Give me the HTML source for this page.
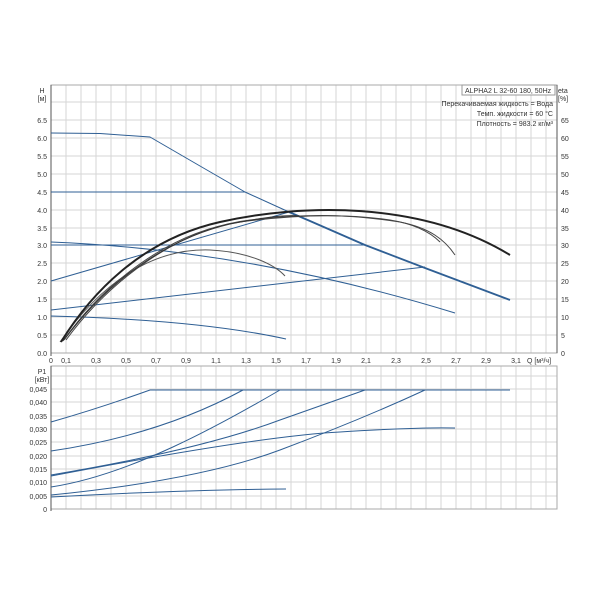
<!DOCTYPE html>
<html><head><meta charset="utf-8"><style>
html,body{margin:0;padding:0;background:#fff;width:600px;height:600px;overflow:hidden}
svg text{font-family:"Liberation Sans","DejaVu Sans",sans-serif;font-size:7px;fill:#333}
</style></head><body>
<svg width="600" height="600" viewBox="0 0 600 600" xmlns="http://www.w3.org/2000/svg">
<g stroke="#d6d6d6" stroke-width="1" fill="none">
<path d="M66 85V353M81 85V353M96 85V353M111 85V353M126 85V353M141 85V353M156 85V353M171 85V353M186 85V353M201 85V353M216 85V353M231 85V353M246 85V353M261 85V353M276 85V353M291 85V353M306 85V353M321 85V353M336 85V353M351 85V353M366 85V353M381 85V353M396 85V353M411 85V353M426 85V353M441 85V353M456 85V353M471 85V353M486 85V353M501 85V353M516 85V353M531 85V353M546 85V353"/>
<path d="M51 335H557M51 317H557M51 299H557M51 281H557M51 263H557M51 245H557M51 228H557M51 210H557M51 192H557M51 174H557M51 156H557M51 138H557M51 120H557M51 102H557"/>
<path d="M66 366V509M81 366V509M96 366V509M111 366V509M126 366V509M141 366V509M156 366V509M171 366V509M186 366V509M201 366V509M216 366V509M231 366V509M246 366V509M261 366V509M276 366V509M291 366V509M306 366V509M321 366V509M336 366V509M351 366V509M366 366V509M381 366V509M396 366V509M411 366V509M426 366V509M441 366V509M456 366V509M471 366V509M486 366V509M501 366V509M516 366V509M531 366V509M546 366V509"/>
<path d="M51 496H557M51 482H557M51 469H557M51 456H557M51 442H557M51 429H557M51 416H557M51 402H557M51 389H557M51 376H557"/>
</g>
<g stroke="#aaa" fill="none">
<rect x="51" y="85" width="506" height="268"/>
<rect x="51" y="366" width="506" height="143"/>
</g>
<g stroke="#555" fill="none">
<path d="M51 85V356M51 366V511"/>
<path d="M557 85V353"/>
</g>
<rect x="462" y="85" width="93" height="10" fill="#fff" stroke="#999"/>
<text x="465" y="93">ALPHA2 L 32-60 180, 50Hz</text>
<text x="558" y="93">eta</text><text x="558" y="101">[%]</text>
<text x="553" y="106" text-anchor="end">Перекачиваемая жидкость = Вода</text>
<text x="553" y="116" text-anchor="end">Темп. жидкости = 60 °C</text>
<text x="553" y="126" text-anchor="end">Плотность = 983.2 кг/м³</text>
<text x="42" y="93" text-anchor="middle">H</text><text x="42" y="101" text-anchor="middle">[м]</text>
<g text-anchor="end">
<text x="47" y="356">0.0</text><text x="47" y="338">0.5</text><text x="47" y="320">1.0</text><text x="47" y="302">1.5</text><text x="47" y="284">2.0</text><text x="47" y="266">2.5</text><text x="47" y="248">3.0</text><text x="47" y="231">3.5</text><text x="47" y="213">4.0</text><text x="47" y="195">4.5</text><text x="47" y="177">5.0</text><text x="47" y="159">5.5</text><text x="47" y="141">6.0</text><text x="47" y="123">6.5</text>
</g>
<g>
<text x="561" y="356">0</text><text x="561" y="338">5</text><text x="561" y="320">10</text><text x="561" y="302">15</text><text x="561" y="284">20</text><text x="561" y="266">25</text><text x="561" y="248">30</text><text x="561" y="231">35</text><text x="561" y="213">40</text><text x="561" y="195">45</text><text x="561" y="177">50</text><text x="561" y="159">55</text><text x="561" y="141">60</text><text x="561" y="123">65</text>
</g>
<g text-anchor="middle">
<text x="51" y="363">0</text><text x="66" y="363">0,1</text><text x="96" y="363">0,3</text><text x="126" y="363">0,5</text><text x="156" y="363">0,7</text><text x="186" y="363">0,9</text><text x="216" y="363">1,1</text><text x="246" y="363">1,3</text><text x="276" y="363">1,5</text><text x="306" y="363">1,7</text><text x="336" y="363">1,9</text><text x="366" y="363">2,1</text><text x="396" y="363">2,3</text><text x="426" y="363">2,5</text><text x="456" y="363">2,7</text><text x="486" y="363">2,9</text><text x="516" y="363">3,1</text>
</g>
<text x="527" y="363">Q [м³/ч]</text>
<text x="42" y="374" text-anchor="middle">P1</text><text x="42" y="382" text-anchor="middle">[кВт]</text>
<g text-anchor="end">
<text x="47" y="512">0</text><text x="47" y="499">0,005</text><text x="47" y="485">0,010</text><text x="47" y="472">0,015</text><text x="47" y="459">0,020</text><text x="47" y="445">0,025</text><text x="47" y="432">0,030</text><text x="47" y="419">0,035</text><text x="47" y="405">0,040</text><text x="47" y="392">0,045</text>
</g>
<g stroke="#2f5f94" stroke-width="1" fill="none" stroke-linejoin="round">
<path d="M51 133L100 133.5L150 137L200 166L245 192L289 212"/>
<path d="M51 192H245M51 245H365"/>
<path d="M51 242Q250 250 455 313"/>
<path d="M51 281L289 212"/>
<path d="M51 310L425 267"/>
<path d="M51 316Q200 320 286 339"/>
</g>
<path d="M289 212L310 221L365 245L425 268L510 300" stroke="#2f5f94" stroke-width="1.8" fill="none" stroke-linejoin="round"/>
<g stroke="#222" fill="none">
<path d="M60 342C100 285 150 248 210 250C250 252 275 265 285 276" stroke="#555"/>
<path d="M66 340C110 280 180 228 250 220C320 212 360 216 400 222C430 228 445 240 455 255" stroke="#444"/>
<path d="M63 341C105 282 170 232 240 222C300 214 350 214 390 220C415 224 430 232 440 242" stroke="#444"/>
<path d="M64 340C110 278 170 238 230 224C270 216 290 215 300 216" stroke="#333"/>
<path d="M61 342C90 295 140 240 220 222S420 200 510 255" stroke-width="2"/>
</g>
<g stroke="#2f5f94" stroke-width="1" fill="none">
<path d="M150 390H510"/>
<path d="M51 422Q100 408 150 390"/>
<path d="M51 451Q160 435 243 390"/>
<path d="M51 487C130 475 220 425 280 390"/>
<path d="M51 475Q200 450 280 420L365 390"/>
<path d="M51 476Q260 436 340 432Q420 427 455 428"/>
<path d="M51 495Q200 480 280 450Q360 420 425 390"/>
<path d="M51 497Q180 490 286 489"/>
</g>
</svg>
</body></html>
